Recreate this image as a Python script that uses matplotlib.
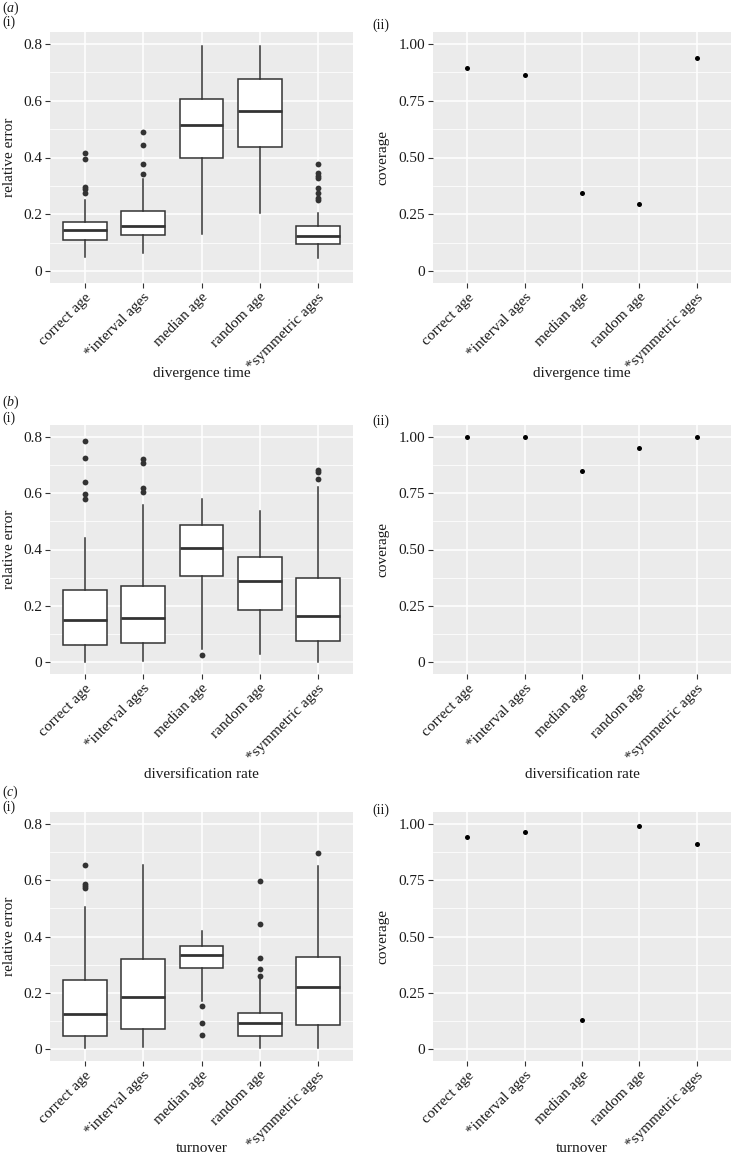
import matplotlib
matplotlib.use('Agg')
import matplotlib.pyplot as plt
from matplotlib.ticker import FixedLocator

plt.rcParams['font.family'] = ['Liberation Serif', 'DejaVu Serif']
plt.rcParams['mathtext.fontset'] = 'custom'
plt.rcParams['mathtext.rm'] = 'Liberation Serif'
plt.rcParams['mathtext.it'] = 'Liberation Serif:italic'

categories = ['correct age', '*interval ages', 'median age', 'random age', '*symmetric ages']

# (a) divergence time
div_lo = [0.049, 0.064, 0.131, 0.206, 0.047]
div_q1 = [0.108, 0.126, 0.398, 0.436, 0.094]
div_med = [0.143, 0.159, 0.516, 0.563, 0.124]
div_q3 = [0.174, 0.210, 0.606, 0.675, 0.159]
div_hi = [0.249, 0.324, 0.794, 0.794, 0.203]
div_fliers = [[0.415, 0.394, 0.297, 0.290, 0.276],
              [0.491, 0.445, 0.378, 0.343],
              [],
              [],
              [0.376, 0.344, 0.336, 0.328, 0.291, 0.276, 0.257, 0.252]]
div_cov = [0.894, 0.864, 0.342, 0.295, 0.940]

# (b) diversification rate
rate_lo = [0.0, 0.005, 0.047, 0.029, 0.002]
rate_q1 = [0.061, 0.067, 0.305, 0.185, 0.074]
rate_med = [0.148, 0.156, 0.404, 0.287, 0.165]
rate_q3 = [0.256, 0.272, 0.486, 0.374, 0.298]
rate_hi = [0.442, 0.558, 0.580, 0.538, 0.622]
rate_fliers = [[0.784, 0.726, 0.639, 0.598, 0.579],
               [0.722, 0.707, 0.620, 0.604],
               [0.024],
               [],
               [0.682, 0.675, 0.652]]
rate_cov = [1.0, 1.0, 0.85, 0.95, 1.0]

# (c) turnover
turn_lo = [0.004, 0.009, 0.171, 0.004, 0.005]
turn_q1 = [0.047, 0.071, 0.288, 0.045, 0.086]
turn_med = [0.126, 0.184, 0.333, 0.094, 0.219]
turn_q3 = [0.245, 0.321, 0.368, 0.129, 0.326]
turn_hi = [0.506, 0.655, 0.421, 0.257, 0.649]
turn_fliers = [[0.653, 0.586, 0.579, 0.571],
               [],
               [0.153, 0.092, 0.052],
               [0.598, 0.444, 0.322, 0.286, 0.261],
               [0.696]]
turn_cov = [0.941, 0.962, 0.131, 0.991, 0.912]

W, H = 731, 1156
fig = plt.figure(figsize=(W / 100, H / 100), dpi=100)

BG = '#EBEBEB'
DARK = '#333333'
TXT = '#1a1a1a'


def style(ax, ymaj, ylabels, yminor, ylim):
    ax.set_facecolor(BG)
    for s in ax.spines.values():
        s.set_visible(False)
    ax.set_xlim(0.4, 5.6)
    ax.set_ylim(*ylim)
    ax.set_xticks(range(1, 6))
    ax.set_xticklabels(categories, rotation=45, ha='right', va='top',
                       rotation_mode='anchor', fontsize=11, color=TXT)
    ax.set_yticks(ymaj)
    ax.set_yticklabels(ylabels, fontsize=11, color=TXT)
    ax.yaxis.set_minor_locator(FixedLocator(yminor))
    ax.tick_params(axis='both', which='major', length=3.5, width=0.8,
                   color=DARK, pad=2)
    ax.tick_params(axis='y', which='minor', length=0)
    ax.grid(True, which='major', color='white', lw=1.1)
    ax.grid(True, which='minor', axis='y', color='white', lw=0.55)
    ax.set_axisbelow(True)


def px_axes(x0, y0, x1, y1):
    return fig.add_axes([x0 / W, 1 - y1 / H, (x1 - x0) / W, (y1 - y0) / H])


rows = [
    ('a', 'divergence time', div_lo, div_q1, div_med, div_q3, div_hi, div_fliers, div_cov,
     32, 283, 373, 8, 22),
    ('b', 'diversification rate', rate_lo, rate_q1, rate_med, rate_q3, rate_hi, rate_fliers,
     rate_cov, 425, 674, 774, 402, 418),
    ('c', 'turnover', turn_lo, turn_q1, turn_med, turn_q3, turn_hi, turn_fliers, turn_cov,
     812, 1061, 1148, 792, 807),
]

for letter, xl, lo, q1, med, q3, hi, fl, cov, top, bot, xly, ly1, ly2 in rows:
    # left: relative error boxplots
    ax = px_axes(50, top, 353, bot)
    style(ax, [0, 0.2, 0.4, 0.6, 0.8], ['0', '0.2', '0.4', '0.6', '0.8'],
          [0.1, 0.3, 0.5, 0.7], (-0.042, 0.842))
    stats = []
    for i in range(5):
        stats.append(dict(med=med[i], q1=q1[i], q3=q3[i], whislo=lo[i],
                          whishi=hi[i], fliers=fl[i]))
    ax.bxp(stats, positions=range(1, 6), widths=0.75, patch_artist=True,
           showcaps=False, manage_ticks=False,
           boxprops=dict(facecolor='white', edgecolor=DARK, lw=1.1),
           medianprops=dict(color=DARK, lw=2.0),
           whiskerprops=dict(color=DARK, lw=1.1),
           flierprops=dict(marker='o', markerfacecolor=DARK, markeredgecolor='none',
                           markersize=4.2))
    ax.text(-0.135, 0.5, 'relative error', transform=ax.transAxes, rotation=90,
            ha='center', va='center', fontsize=11, color=TXT)
    ax.text(0.5, (bot - xly) / (bot - top), xl, transform=ax.transAxes,
            ha='center', va='center', fontsize=11, color=TXT)

    # right: coverage
    ax2 = px_axes(433, top, 731, bot)
    style(ax2, [0, 0.25, 0.5, 0.75, 1.0], ['0', '0.25', '0.50', '0.75', '1.00'],
          [0.125, 0.375, 0.625, 0.875], (-0.053, 1.053))
    ax2.plot(range(1, 6), cov, 'o', color='black', markersize=3.6, markeredgewidth=0)
    ax2.text(-0.168, 0.5, 'coverage', transform=ax2.transAxes, rotation=90,
             ha='center', va='center', fontsize=11, color=TXT)
    ax2.text(0.5, (bot - xly) / (bot - top), xl, transform=ax2.transAxes,
             ha='center', va='center', fontsize=11, color=TXT)

    # panel labels
    fig.text(2 / W, 1 - ly1 / H, r'$(\mathit{%s})$' % letter, ha='left', va='center',
             fontsize=10, color=TXT)
    fig.text(2 / W, 1 - ly2 / H, '(i)', ha='left', va='center', fontsize=10, color=TXT)
    fig.text(372 / W, 1 - (ly2 + 3) / H, '(ii)', ha='left', va='center', fontsize=10,
             color=TXT)

fig.savefig('out.png', dpi=100, facecolor='white')
